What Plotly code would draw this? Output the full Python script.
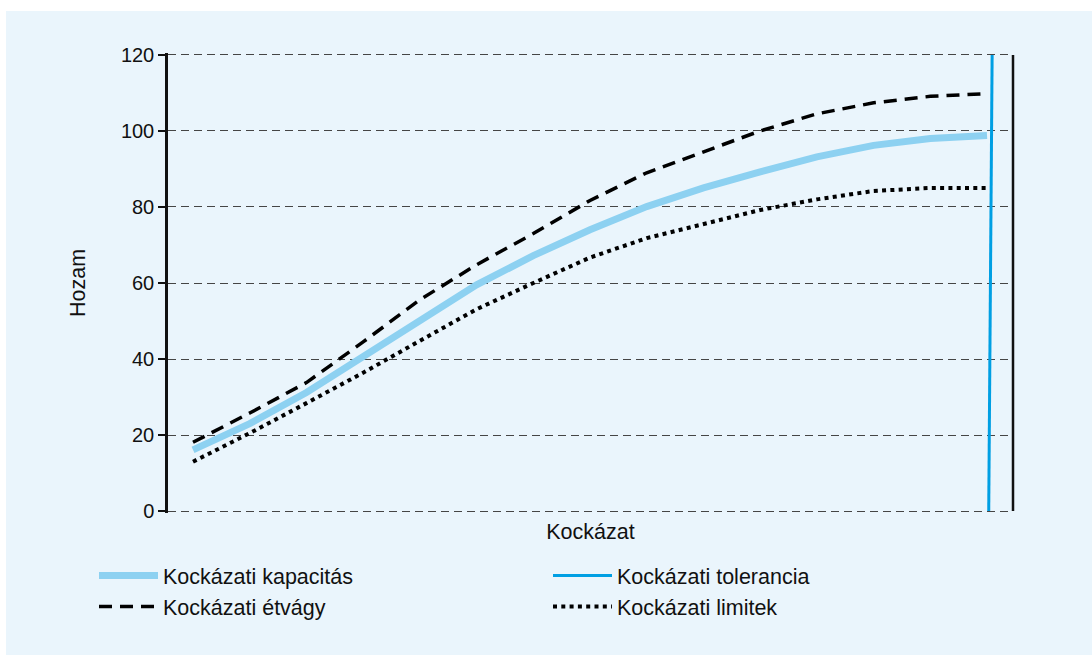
import plotly.graph_objects as go

# ---- data ----
steps = list(range(15))
kapacitas = [16.1, 23.0, 31.2, 40.5, 50.0, 59.5, 67.2, 74.0, 80.1, 85.0, 89.2, 93.2, 96.2, 98.0, 98.8]
etvagy = [18.1, 25.8, 33.8, 44.5, 55.6, 64.8, 73.0, 81.7, 89.0, 94.6, 100.0, 104.5, 107.4, 109.1, 109.8]
limitek = [13.0, 20.5, 28.4, 36.4, 44.8, 53.1, 60.0, 66.7, 71.8, 75.5, 79.2, 82.0, 84.2, 85.0, 85.0]
tolerancia_x = [14.03, 14.09]
tolerancia_y = [0, 120]
y_ticks = [0, 20, 40, 60, 80, 100, 120]

names = ["Kockázati kapacitás", "Kockázati tolerancia", "Kockázati étvágy", "Kockázati limitek"]
x_title = "Kockázat"
y_title = "Hozam"

FONT = "Liberation Sans, Arial, sans-serif"
BG = "#EAF5FC"
TXT = 21.5

fig = go.Figure()
fig.add_trace(go.Scatter(x=steps, y=kapacitas, mode="lines", name=names[0], legend="legend",
                         line=dict(color="#8DD1F1", width=7)))
fig.add_trace(go.Scatter(x=tolerancia_x, y=tolerancia_y, mode="lines", name=names[1], legend="legend2",
                         line=dict(color="#009FE3", width=3)))
fig.add_trace(go.Scatter(x=steps, y=etvagy, mode="lines", name=names[2], legend="legend",
                         line=dict(color="#000000", width=3.5, dash="13px,8px")))
fig.add_trace(go.Scatter(x=steps, y=limitek, mode="lines", name=names[3], legend="legend2",
                         line=dict(color="#000000", width=4, dash="4px,4.3px")))

# plot area geometry (pixels)
L, R, T, B = 168, 1013, 53, 513
W, H = 1092, 655
pw, ph = R - L, B - T

def px_x(p):
    return (p - L) / pw

def px_y(p):
    return (B - p) / ph

# light-blue panel
fig.add_shape(type="rect", xref="paper", yref="paper",
              x0=px_x(6), x1=px_x(W + 5), y0=px_y(H + 5), y1=px_y(11),
              fillcolor=BG, line=dict(width=0), layer="below")
# right vertical line
fig.add_shape(type="line", xref="paper", yref="y", x0=1, x1=1, y0=0, y1=120,
              line=dict(color="#111111", width=2.5))

# y axis title
fig.add_annotation(text=y_title, xref="paper", yref="paper", x=px_x(78), y=px_y(283),
                   xanchor="center", yanchor="middle", textangle=-90, showarrow=False,
                   font=dict(family=FONT, size=TXT, color="#111111"))

legend_common = dict(orientation="v", xanchor="left", yanchor="top",
                     xref="container", yref="container", itemwidth=59,
                     font=dict(family=FONT, size=TXT, color="#111111"),
                     bgcolor="rgba(0,0,0,0)", traceorder="normal", tracegroupgap=0)

fig.update_layout(
    width=W, height=H,
    margin=dict(l=L, r=W - R, t=T, b=H - B, autoexpand=False),
    paper_bgcolor="white",
    plot_bgcolor="rgba(0,0,0,0)",
    font=dict(family=FONT, size=20, color="#111111"),
    showlegend=True,
    legend=dict(x=94 / W, y=1 - 555 / H, **legend_common),
    legend2=dict(x=548 / W, y=1 - 555 / H, **legend_common),
    xaxis=dict(range=[-0.441, 14.458], showgrid=False, zeroline=False, showline=False,
               showticklabels=False, ticks="",
               title=dict(text=x_title, font=dict(family=FONT, size=TXT), standoff=10)),
    yaxis=dict(range=[-0.5, 120.5], tickvals=y_ticks, ticktext=[str(v) for v in y_ticks],
               showline=True, linecolor="#111111", linewidth=2.5,
               ticks="outside", ticklen=7, tickwidth=2, tickcolor="#111111",
               showgrid=True, gridcolor="#454545", gridwidth=1, griddash="8px,5px",
               zeroline=False, tickfont=dict(family=FONT, size=20)),
)

fig.write_html("out.html")
